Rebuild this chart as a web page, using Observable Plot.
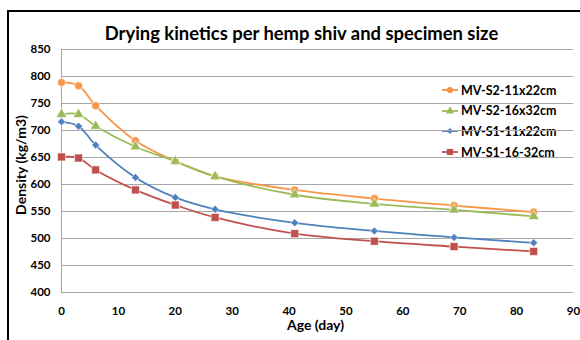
<!DOCTYPE html>
<html>
<head>
<meta charset="utf-8">
<script src="https://cdn.jsdelivr.net/npm/d3@7"></script>
<script src="https://cdn.jsdelivr.net/npm/@observablehq/plot@0.6"></script>
<style>
  html, body { margin: 0; padding: 0; background: #fff; overflow: hidden; }
  #wrap { position: relative; width: 580px; height: 340px; overflow: hidden; font-family: Lato, sans-serif; }
  #frame { position: absolute; left: 7px; top: 10px; width: 640px; height: 400px; border-left: 2px solid #000; border-top: 2px solid #000; box-sizing: border-box; }
  #legend { position: absolute; left: 440px; top: 80px; font-weight: bold; font-size: 12.5px; color: #000; }
  .item { display: flex; align-items: center; height: 20.6px; }
  .item svg { margin-right: 1px; }
</style>
</head>
<body>
<div id="wrap"><div id="frame"></div><div id="legend"></div></div>
<script>
const titleText = "Drying kinetics per hemp shiv and specimen size";
const xLabel = "Age (day)";
const yLabel = "Density (kg/m3)";
const ages = [0, 3, 6, 13, 20, 27, 41, 55, 69, 83];
const seriesNames = ["MV-S2-11x22cm", "MV-S2-16x32cm", "MV-S1-11x22cm", "MV-S1-16-32cm"];
const s2_11x22 = [789, 783, 746, 681, 643, 615, 590, 574, 561, 549];
const s2_16x32 = [730, 730, 708, 670, 643, 615, 581, 564, 553, 541];
const s1_11x22 = [716, 708, 673, 613, 576, 554, 529, 514, 502, 492];
const s1_16_32 = [651, 649, 627, 590, 562, 539, 509, 495, 485, 476];
const xTicks = [0, 10, 20, 30, 40, 50, 60, 70, 80, 90];
const yTicks = [400, 450, 500, 550, 600, 650, 700, 750, 800, 850];

const colors = ["#F79646", "#9BBB59", "#4F81BD", "#C0504D"];
const symbols = ["circle", "triangle", "diamond2", "square"];
const radii = [4, 4, 3.6, 4.5];
const values = [s2_11x22, s2_16x32, s1_11x22, s1_16_32];

const rows = [];
seriesNames.forEach((name, i) => ages.forEach((a, j) => rows.push({series: name, age: a, density: values[i][j]})));

const marks = [
  Plot.ruleY(yTicks, {stroke: "#a6a6a6", strokeWidth: 1}),
  Plot.ruleX([0], {stroke: "#a6a6a6", strokeWidth: 1}),
  Plot.axisY({ticks: yTicks, tickSize: 0, tickPadding: 11, label: null, fontWeight: "bold", fontSize: 11.5}),
  Plot.axisX({ticks: xTicks, tickSize: 0, tickPadding: 14, label: null, fontWeight: "bold", fontSize: 11.5}),
  Plot.text([titleText], {frameAnchor: "top", textAnchor: "middle", dy: -23, dx: -16, fontSize: 18.4, fontWeight: "bold"}),
  Plot.text([yLabel], {frameAnchor: "left", textAnchor: "middle", rotate: -90, dx: -40, dy: -6, fontSize: 14, fontWeight: "bold"}),
  Plot.text([xLabel], {frameAnchor: "bottom", textAnchor: "middle", dy: 37, dx: -2, fontSize: 14, fontWeight: "bold"})
];
seriesNames.forEach((name, i) => {
  const d = rows.filter(r => r.series === name);
  marks.push(Plot.line(d, {x: "age", y: "density", stroke: colors[i], strokeWidth: 1.8, curve: "catmull-rom"}));
});
seriesNames.forEach((name, i) => {
  const d = rows.filter(r => r.series === name);
  marks.push(Plot.dot(d, {x: "age", y: "density", fill: colors[i], symbol: symbols[i], r: radii[i], stroke: "#fff", strokeWidth: 0.6}));
});

const chart = Plot.plot({
  width: 580, height: 340,
  marginLeft: 61, marginRight: 7, marginTop: 49, marginBottom: 48,
  style: {fontFamily: "Lato, sans-serif", color: "#000", background: "transparent", overflow: "visible"},
  x: {domain: [0, 90]},
  y: {domain: [400, 850]},
  marks
});
chart.style.position = "absolute";
chart.style.left = "0px";
chart.style.top = "0px";
document.getElementById("wrap").appendChild(chart);

// legend
const legend = document.getElementById("legend");
seriesNames.forEach((name, i) => {
  const item = document.createElement("div");
  item.className = "item";
  const sw = d3.create("svg").attr("width", 20).attr("height", 12);
  sw.append("line").attr("x1", 2).attr("x2", 18).attr("y1", 6).attr("y2", 6).attr("stroke", colors[i]).attr("stroke-width", 1.8);
  const sym = {circle: d3.symbolCircle, triangle: d3.symbolTriangle, diamond2: d3.symbolDiamond2, square: d3.symbolSquare}[symbols[i]];
  sw.append("path").attr("transform", "translate(10,6)").attr("d", d3.symbol(sym, radii[i] * radii[i] * Math.PI * 0.6)()).attr("fill", colors[i]);
  item.appendChild(sw.node());
  const t = document.createElement("span");
  t.textContent = name;
  item.appendChild(t);
  legend.appendChild(item);
});
</script>
</body>
</html>
